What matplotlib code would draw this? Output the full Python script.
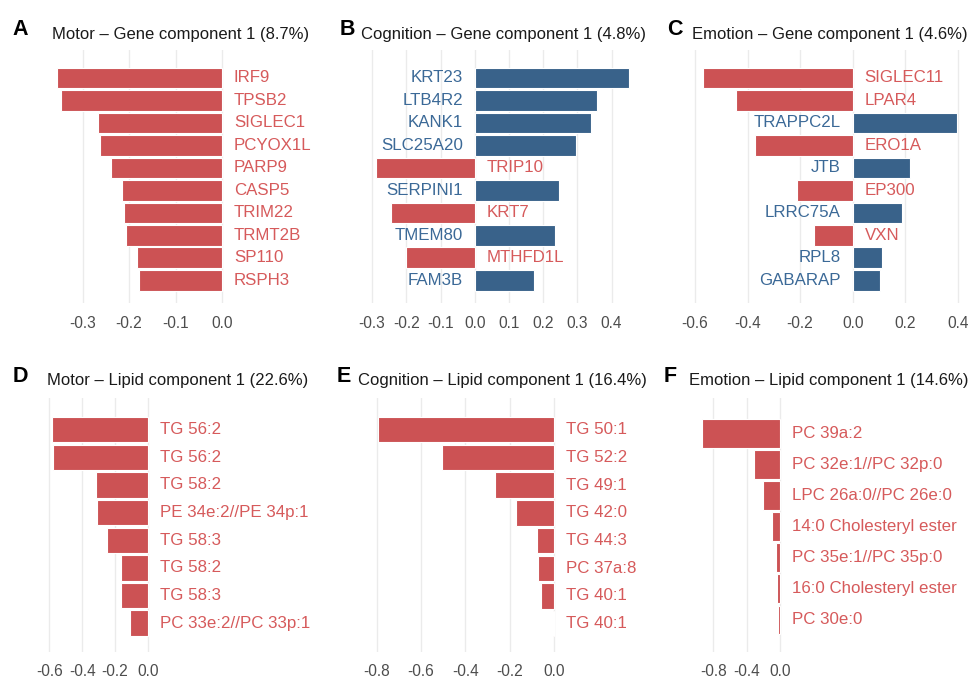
import numpy as np
import matplotlib.pyplot as plt

plt.rcParams['font.family'] = ['Liberation Sans', 'DejaVu Sans']

# A: Motor - Gene
motor_gene_names = ['IRF9', 'TPSB2', 'SIGLEC1', 'PCYOX1L', 'PARP9', 'CASP5',
                    'TRIM22', 'TRMT2B', 'SP110', 'RSPH3']
motor_gene_vals = [-0.355, -0.346, -0.267, -0.262, -0.239, -0.216,
                   -0.210, -0.207, -0.182, -0.178]
motor_gene_ticks = [-0.3, -0.2, -0.1, 0.0]

# B: Cognition - Gene
cog_gene_names = ['KRT23', 'LTB4R2', 'KANK1', 'SLC25A20', 'TRIP10', 'SERPINI1',
                  'KRT7', 'TMEM80', 'MTHFD1L', 'FAM3B']
cog_gene_vals = [0.452, 0.358, 0.340, 0.296, -0.289, 0.247,
                 -0.245, 0.235, -0.202, 0.173]
cog_gene_ticks = [-0.3, -0.2, -0.1, 0.0, 0.1, 0.2, 0.3, 0.4]

# C: Emotion - Gene
emo_gene_names = ['SIGLEC11', 'LPAR4', 'TRAPPC2L', 'ERO1A', 'JTB', 'EP300',
                  'LRRC75A', 'VXN', 'RPL8', 'GABARAP']
emo_gene_vals = [-0.568, -0.444, 0.395, -0.371, 0.218, -0.211,
                 0.189, -0.148, 0.110, 0.104]
emo_gene_ticks = [-0.6, -0.4, -0.2, 0.0, 0.2, 0.4]

# D: Motor - Lipid
motor_lip_names = ['TG 56:2', 'TG 56:2', 'TG 58:2', 'PE 34e:2//PE 34p:1',
                   'TG 58:3', 'TG 58:2', 'TG 58:3', 'PC 33e:2//PC 33p:1']
motor_lip_vals = [-0.582, -0.576, -0.318, -0.310, -0.251, -0.166, -0.166, -0.111]
motor_lip_ticks = [-0.6, -0.4, -0.2, 0.0]

# E: Cognition - Lipid
cog_lip_names = ['TG 50:1', 'TG 52:2', 'TG 49:1', 'TG 42:0', 'TG 44:3',
                 'PC 37a:8', 'TG 40:1', 'TG 40:1']
cog_lip_vals = [-0.797, -0.504, -0.267, -0.172, -0.076, -0.072, -0.056, -0.004]
cog_lip_ticks = [-0.8, -0.6, -0.4, -0.2, 0.0]

# F: Emotion - Lipid
emo_lip_names = ['PC 39a:2', 'PC 32e:1//PC 32p:0', 'LPC 26a:0//PC 26e:0',
                 '14:0 Cholesteryl ester', 'PC 35e:1//PC 35p:0',
                 '16:0 Cholesteryl ester', 'PC 30e:0']
emo_lip_vals = [-0.932, -0.312, -0.208, -0.100, -0.048, -0.036, -0.028]
emo_lip_ticks = [-0.8, -0.4, 0.0]

RED_BAR = '#CC5254'
BLUE_BAR = '#39628A'
RED_TXT = '#D65A5B'
BLUE_TXT = '#3B6997'

W, H = 971, 679
fig = plt.figure(figsize=(W / 100, H / 100), dpi=100)


def add_panel(names, vals, ticks, letter, title, layout):
    zero, k, left, right, gtop, gbot, c0, c1, lx, tx, ly, ty = layout
    ax = fig.add_axes([left / W, 1 - gbot / H, (right - left) / W, (gbot - gtop) / H])
    n = len(vals)
    slot = (c1 - c0) / (n - 1)
    ax.set_ylim((gbot - c0) / slot, (gtop - c0) / slot)
    ax.set_xlim((left - zero) / k, (right - zero) / k)
    y = np.arange(n)
    cols = [RED_BAR if v < 0 else BLUE_BAR for v in vals]
    ax.barh(y, vals, height=0.92, color=cols, edgecolor='white', linewidth=0.8, zorder=2)
    for yi, v, nm in zip(y, vals, names):
        if v < 0:
            ax.annotate(nm, (0, yi), xytext=(8.6, 0), textcoords='offset points',
                        ha='left', va='center', fontsize=12.2, color=RED_TXT,
                        annotation_clip=False)
        else:
            ax.annotate(nm, (0, yi), xytext=(-8.6, 0), textcoords='offset points',
                        ha='right', va='center', fontsize=12.2, color=BLUE_TXT,
                        annotation_clip=False)
    ax.set_xticks(ticks)
    ax.set_xticklabels(['%.1f' % t for t in ticks])
    ax.set_yticks([])
    ax.tick_params(axis='x', length=0, pad=9, labelsize=11.2, labelcolor='#4D4D4D')
    ax.grid(axis='x', color='#EBEBEB', linewidth=1)
    ax.set_axisbelow(True)
    for s in ax.spines.values():
        s.set_visible(False)
    ax.patch.set_alpha(0)
    fig.text(lx / W, 1 - ly / H, letter, fontsize=15.5, fontweight='bold', va='baseline')
    fig.text(tx / W, 1 - ty / H, title, fontsize=12, color='#1A1A1A', va='baseline')
    return ax


# layout: zero px, px per unit, left, right, grid top, grid bottom,
#         first centre, last centre, letter x, title x, letter baseline, title baseline
add_panel(motor_gene_names, motor_gene_vals, motor_gene_ticks, 'A',
          'Motor – Gene component 1 (8.7%)',
          (222, 465, 40, 320, 50, 303, 78, 280.3, 12, 52, 35, 38.5))
add_panel(cog_gene_names, cog_gene_vals, cog_gene_ticks, 'B',
          'Cognition – Gene component 1 (4.8%)',
          (474.7, 342, 340, 655, 50, 303, 78, 280.3, 340, 360.5, 35, 38.5))
add_panel(emo_gene_names, emo_gene_vals, emo_gene_ticks, 'C',
          'Emotion – Gene component 1 (4.6%)',
          (852.7, 263, 680, 965, 50, 303, 78, 280.3, 667, 692, 35, 38.5))
add_panel(motor_lip_names, motor_lip_vals, motor_lip_ticks, 'D',
          'Motor – Lipid component 1 (22.6%)',
          (148, 164.5, 40, 320, 398, 652, 429.7, 623.2, 13, 47, 382.5, 385.5))
add_panel(cog_lip_names, cog_lip_vals, cog_lip_ticks, 'E',
          'Cognition – Lipid component 1 (16.4%)',
          (553.7, 221, 360, 655, 398, 652, 429.7, 623.7, 337, 358, 382.5, 385.5))
add_panel(emo_lip_names, emo_lip_vals, emo_lip_ticks, 'F',
          'Emotion – Lipid component 1 (14.6%)',
          (780, 83.3, 680, 965, 398, 652, 433.3, 619.8, 664, 689, 382.5, 385.5))

fig.savefig('out.png', dpi=100)
